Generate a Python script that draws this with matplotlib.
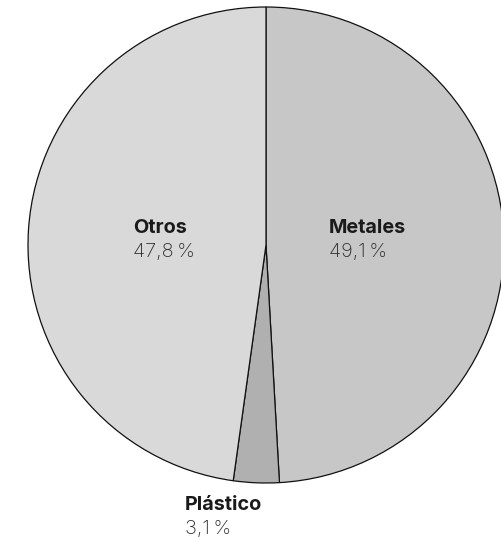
import matplotlib.pyplot as plt

labels  = ['Metales', 'Plástico', 'Otros']
values  = [49.1, 3.1, 47.8]
pcts    = ['49,1\u2009%', '3,1\u2009%', '47,8\u2009%']
colors  = ['#c6c7c6', '#b0b0b0', '#d9d9d9']

W, H = 502, 537
fig = plt.figure(figsize=(W/100, H/100), dpi=100)
ax = fig.add_axes([0, 0, 1, 1])

cx, cy, r = 266, 245, 238
ax.pie(values, colors=colors, startangle=90, counterclock=False,
       center=(cx, H - cy), radius=r, frame=True,
       wedgeprops=dict(edgecolor='#111111', linewidth=0.9))
ax.set_xlim(0, W)
ax.set_ylim(0, H)
ax.set_aspect('equal')
ax.axis('off')

# label positions: left x, baseline of the name (pixels from top)
pos = {'Metales': (329, 233), 'Plástico': (185, 510), 'Otros': (133, 233)}
fam = ['Inter', 'DejaVu Sans']
for lab, p in zip(labels, pcts):
    x, y = pos[lab]
    ax.text(x, H - y, lab, fontsize=14.3, fontweight='bold', color='#1a1a1a',
            family=fam, va='baseline', ha='left')
    ax.text(x, H - y - 24, p, fontsize=14.3, fontweight='light', color='#2a2a2a',
            family=fam, va='baseline', ha='left')

fig.savefig('out.png', dpi=100)
